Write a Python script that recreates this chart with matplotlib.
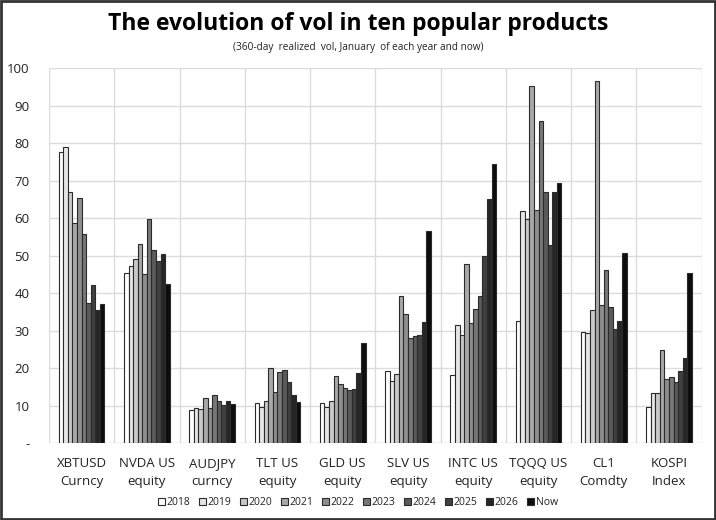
import matplotlib
matplotlib.use("Agg")
import matplotlib.pyplot as plt
from matplotlib.patches import Rectangle
import numpy as np

plt.rcParams['font.family'] = ['Open Sans', 'DejaVu Sans']

categories = ["XBTUSD\nCurncy", "NVDA US\nequity", "AUDJPY\ncurncy", "TLT US\nequity",
              "GLD US\nequity", "SLV US\nequity", "INTC US\nequity", "TQQQ US\nequity",
              "CL1\nComdty", "KOSPI\nIndex"]
series_names = ["2018", "2019", "2020", "2021", "2022", "2023", "2024", "2025", "2026", "Now"]

v2018 = [77.8, 45.3, 9.0, 10.8, 10.8, 19.4, 18.2, 32.5, 29.6, 9.8]
v2019 = [79.0, 47.3, 9.3, 9.6, 9.8, 16.5, 31.5, 61.9, 29.4, 13.5]
v2020 = [66.9, 49.2, 9.1, 11.2, 11.2, 18.6, 29.0, 59.7, 35.5, 13.5]
v2021 = [58.7, 53.1, 12.2, 20.0, 17.9, 39.4, 47.8, 95.4, 96.6, 24.9]
v2022 = [65.3, 45.2, 9.3, 13.6, 15.7, 34.6, 32.2, 62.1, 36.8, 17.1]
v2023 = [55.7, 59.8, 12.9, 18.9, 14.8, 28.2, 35.8, 85.9, 46.3, 17.7]
v2024 = [37.5, 51.6, 11.2, 19.5, 14.2, 28.5, 39.2, 66.9, 36.3, 16.4]
v2025 = [42.2, 48.6, 10.2, 16.3, 14.5, 29.0, 49.9, 52.8, 30.5, 19.4]
v2026 = [35.6, 50.4, 11.2, 12.9, 18.8, 32.3, 65.1, 66.9, 32.5, 22.7]
vNow = [37.1, 42.6, 10.4, 11.1, 26.7, 56.7, 74.4, 69.4, 50.7, 45.5]
series_values = [v2018, v2019, v2020, v2021, v2022, v2023, v2024, v2025, v2026, vNow]

y_ticks = [0, 10, 20, 30, 40, 50, 60, 70, 80, 90, 100]
y_tick_labels = ["-", "10", "20", "30", "40", "50", "60", "70", "80", "90", "100"]

colors = ["#FFFFFF", "#E6E6E6", "#C9C9C9", "#A8A8A8", "#8E8E8E",
          "#777777", "#5A5A5A", "#404040", "#262626", "#0D0D0D"]

fig = plt.figure(figsize=(7.16, 5.2), dpi=100)
ax = fig.add_axes([0.0684, 0.1475, 0.9116, 0.7212])

n = len(series_names)
x = np.arange(len(categories))
bw = 0.07
for i, (name, vals) in enumerate(zip(series_names, series_values)):
    offs = (i - (n - 1) / 2) * bw
    ax.bar(x + offs, vals, width=bw, color=colors[i], edgecolor="#2b2b2b",
           linewidth=0.8, label=name, zorder=3)

ax.set_xlim(-0.5, len(categories) - 0.5)
ax.set_ylim(0, 100)
ax.set_yticks(y_ticks)
ax.set_yticklabels(y_tick_labels, fontsize=9.5, color="#222222")
ax.set_xticks(x)
ax.set_xticklabels(categories, fontsize=9.5, color="#222222", linespacing=1.45)
ax.tick_params(axis='both', length=0)
ax.tick_params(axis='y', pad=14)
ax.tick_params(axis='x', pad=10)

# grid
for yv in y_ticks[1:]:
    ax.axhline(yv, color="#DCDCDC", linewidth=1.0, zorder=0)
for xv in np.arange(-0.5, len(categories), 1.0):
    ax.axvline(xv, color="#DCDCDC", linewidth=1.0, zorder=0)
for s in ax.spines.values():
    s.set_visible(False)
ax.axhline(0, color="#D0D0D0", linewidth=1.0, zorder=2)

fig.text(0.5, 0.953, "The evolution of vol in ten popular products", ha="center", va="center",
         fontsize=16.5, fontweight="bold", color="#000000")
fig.text(0.5, 0.909, "(360-day  realized  vol, January  of each year and now)", ha="center",
         va="center", fontsize=7.2, color="#222222")

leg = fig.legend(loc="center", bbox_to_anchor=(0.5, 0.034), ncol=n, frameon=False,
                 fontsize=7.5, handlelength=0.7, handleheight=0.7, handletextpad=0.15,
                 columnspacing=0.8, borderaxespad=0)
for t in leg.get_texts():
    t.set_color("#222222")

fig.patches.append(Rectangle((0.0015, 0.002), 0.997, 0.996, transform=fig.transFigure,
                             fill=False, edgecolor="#333333", linewidth=2.0))

fig.savefig("out.png", dpi=100)
